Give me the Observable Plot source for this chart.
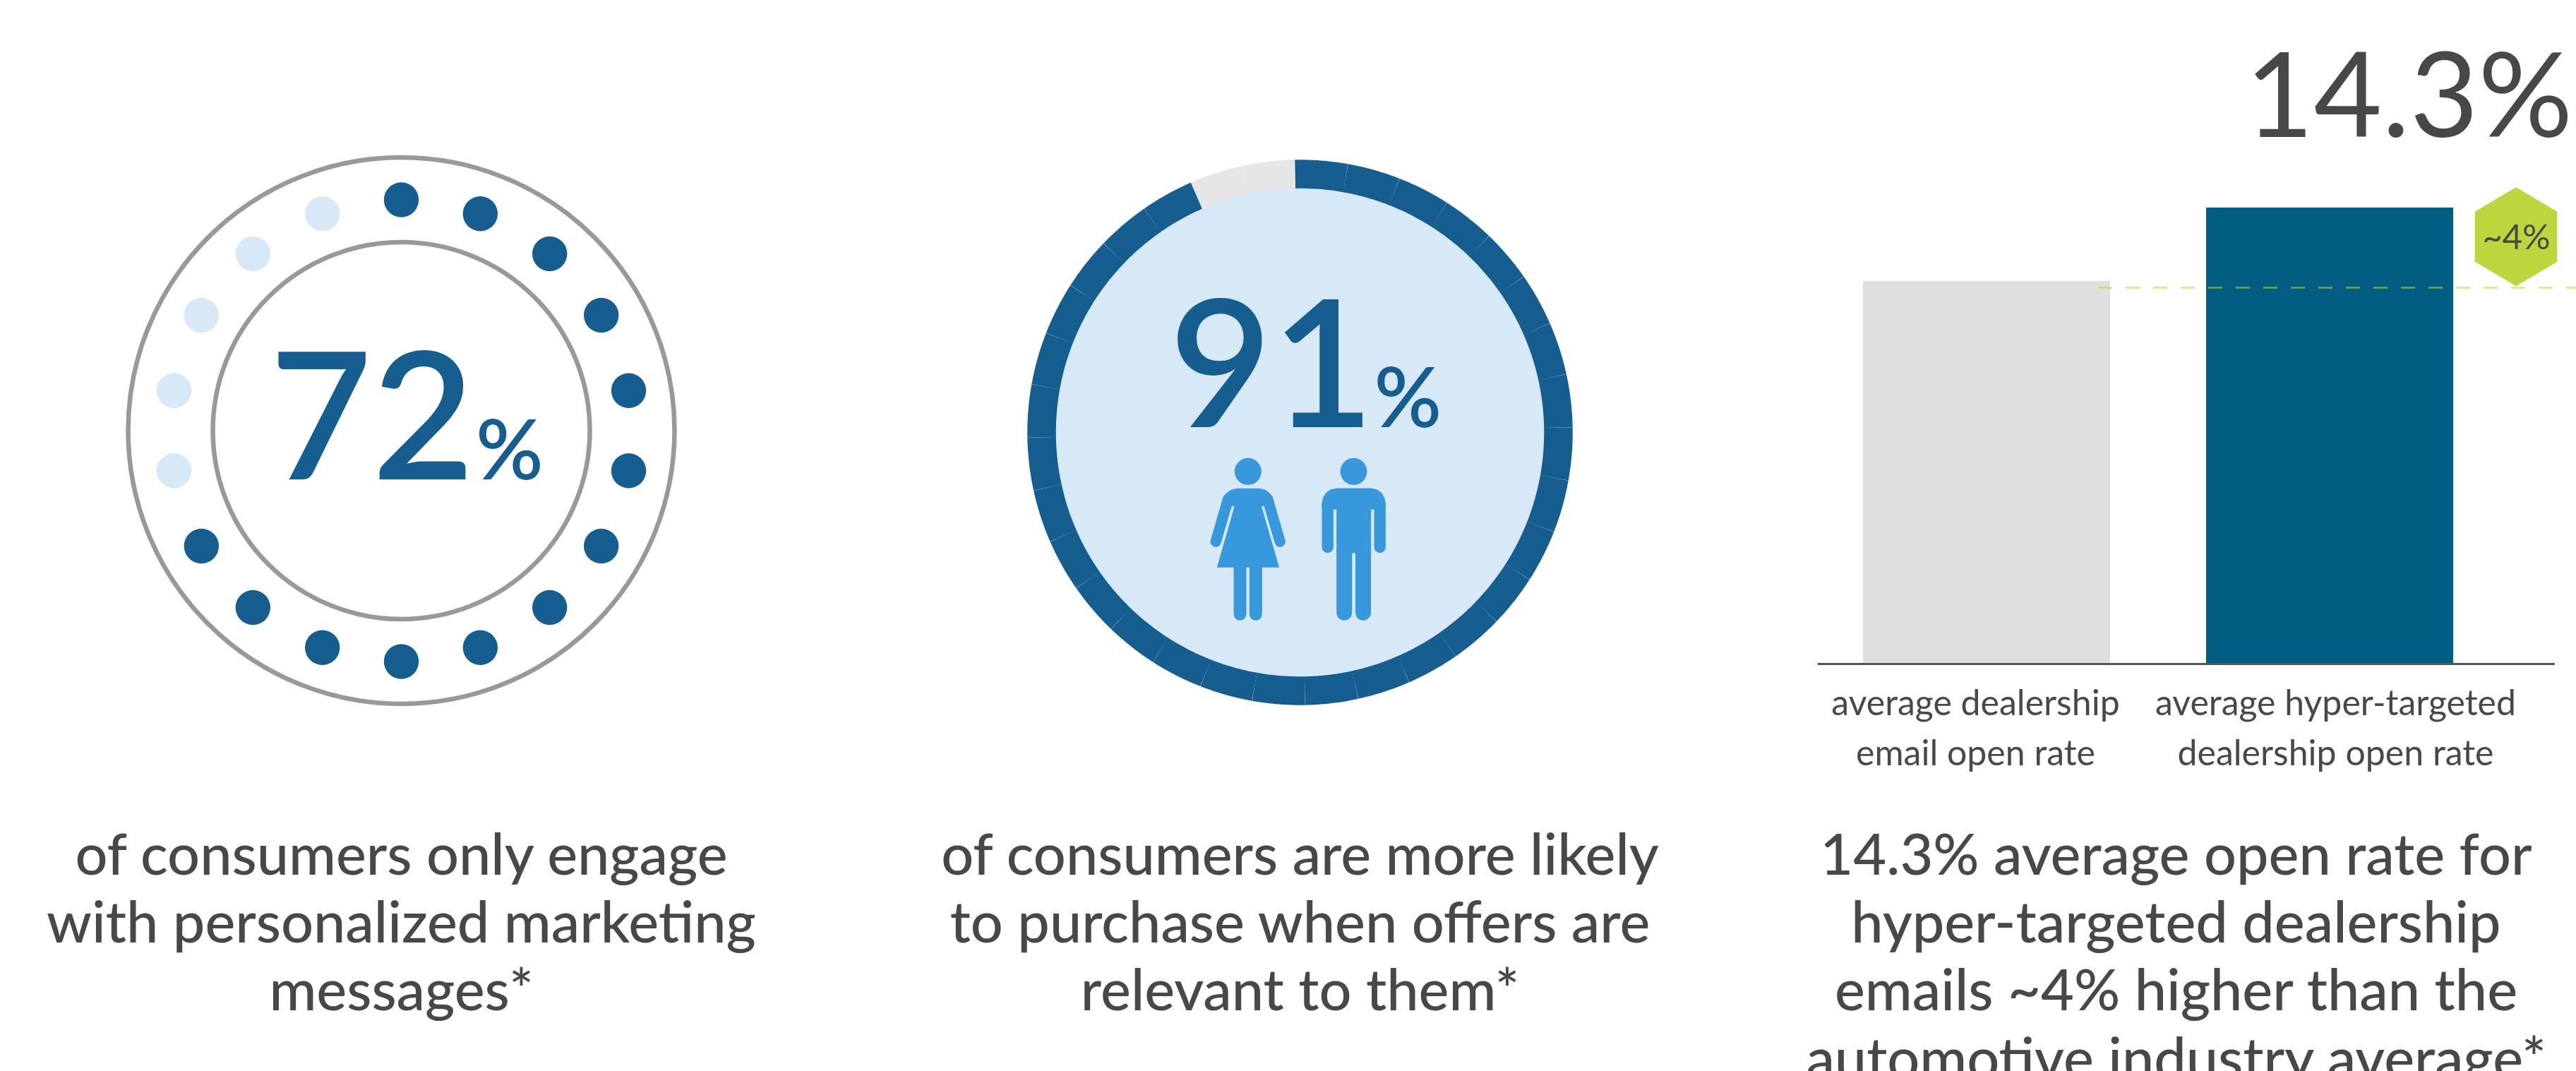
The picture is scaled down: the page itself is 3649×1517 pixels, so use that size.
<!DOCTYPE html>
<html>
<head>
<meta charset="utf-8">
<script src="https://cdn.jsdelivr.net/npm/d3@7"></script>
<script src="https://cdn.jsdelivr.net/npm/@observablehq/plot@0.6"></script>
<style>
  html, body { margin: 0; background: #fff; }
  #page { position: relative; width: 3649px; height: 1517px; overflow: hidden; background: #fff; }
  svg { position: absolute; top: 0; max-width: none !important; font-family: Lato, sans-serif; }
</style>
</head>
<body>
<div id="page"></div>
<script>
// Statistics shown in the three panels
const dotStates = ["on","on","on","on","on","on","on","on","on","on","on","on","on","off","off","off","off","off"];
const segmentStates = [
  "on","on","on","on","on","on","on","on","on","on",
  "on","on","on","on","on","on","on","on","on","on",
  "on","on","on","on","on","on","on","on","on","on",
  "off","off"
];
const barCategories = ["average dealership\nemail open rate", "average hyper-targeted\ndealership open rate"];
const barValues = [12.0, 14.3];
const benchmarkValue = 11.8;
const bigValue = "14.3%";
const badgeText = "~4%";
const captionEngage = "of consumers only engage\nwith personalized marketing\nmessages*";
const captionRelevant = "of consumers are more likely\nto purchase when offers are\nrelevant to them*";
const captionOpenRate = "14.3% average open rate for\nhyper-targeted dealership\nemails ~4% higher than the\nautomotive industry average*";

const NAVY = "#155e8f", PALE = "#d7e9f7", SKY = "#3798dc", INK = "#484848", LIME = "#bcd63e";
const CAPTION_SIZE = 81, CAPTION_LINE = 96.2, CAPTION_BASELINE = 1238.5;
const page = document.getElementById("page");

function caption(text, cx) {
  return Plot.text([text], {
    frameAnchor: "top-left", textAnchor: "middle", lineAnchor: "top",
    dx: cx, dy: CAPTION_BASELINE - 0.71 * CAPTION_LINE,
    lineHeight: CAPTION_LINE / CAPTION_SIZE, fontSize: CAPTION_SIZE, fontWeight: 500, fill: INK
  });
}

// A panel whose x/y scales are measured outward from the centre of its circle
function radialPanel(left, right, cx, cy, marks) {
  const svg = Plot.plot({
    width: right - left, height: 1517, margin: 0,
    x: {domain: [left - cx, right - cx], range: [0, right - left], axis: null},
    y: {domain: [cy, cy - 1517], range: [0, 1517], axis: null},
    marks
  });
  svg.style.left = left + "px";
  page.appendChild(svg);
}

// Panel 1: eighteen dots between two circles, clockwise from twelve o'clock
const dotRing = dotStates.map((state, i) => {
  const a = (i / dotStates.length) * 2 * Math.PI;
  return {state, x: 327 * Math.sin(a), y: 327 * Math.cos(a)};
});
radialPanel(0, 1137, 568, 609.5, [
  Plot.dot([[0, 0]], {x: "0", y: "1", r: 387, fill: "none", stroke: "#999", strokeWidth: 6.5}),
  Plot.dot([[0, 0]], {x: "0", y: "1", r: 267, fill: "none", stroke: "#999", strokeWidth: 6.5}),
  Plot.dot(dotRing, {x: "x", y: "y", r: 24.7, fill: d => d.state === "on" ? NAVY : PALE}),
  Plot.text(["72"], {x: -186.5, y: -69, text: d => d, textAnchor: "start", lineAnchor: "bottom", fontSize: 250, fontWeight: 600, fill: NAVY}),
  Plot.text(["%"], {x: 105.5, y: -69, text: d => d, textAnchor: "start", lineAnchor: "bottom", fontSize: 118, fontWeight: 600, fill: NAVY}),
  caption(captionEngage, 568)
]);

// Panel 2: segmented ring drawn as thick arcs, plus the two pictograms
const SEG_DEG = 360 / segmentStates.length;
const ringPoints = segmentStates.flatMap((state, i) =>
  d3.range(0, 13).map(k => {
    const a = (-1.1 + (i + k / 12) * SEG_DEG) * Math.PI / 180;
    return {seg: i, state, x: 366 * Math.sin(a), y: 366 * Math.cos(a)};
  })
);
// Pictogram outlines, in thirds of a pixel from the group's corner
const icoX = u => u / 3 + 1680 - 1841;
const icoY = v => 612 - (v / 3 + 620);
const outlines = [
  [[215,214],[310,214],[335,220],[355,235],[368,255],[372,268],[320,292],[395,550],[130,550],[204,292],[152,268],[157,255],[170,235],[190,220]],
  [[640,213],[783,213],[810,218],[830,233],[843,255],[847,280],[847,304],[785,304],[785,489],[638,489],[638,304],[576,304],[576,280],[580,255],[593,233],[613,218]]
];
const limbs = [
  {w: 46, pts: [[178,258],[125,440]]}, {w: 46, pts: [[345,258],[398,440]]},
  {w: 54, pts: [[228,540],[228,748]]}, {w: 54, pts: [[295,540],[295,748]]},
  {w: 49, pts: [[600.5,280],[600.5,463.5]]}, {w: 49, pts: [[822.5,280],[822.5,463.5]]},
  {w: 66, pts: [[671,480],[671,742]]}, {w: 66, pts: [[751.5,480],[751.5,742]]}
];
const heads = [[262,142],[711,142]];
const outlinePts = outlines.flatMap((o, id) => o.map(([u, v]) => ({id, x: icoX(u), y: icoY(v)})));
const limbMarks = limbs.map(l => Plot.line(l.pts.map(([u, v]) => ({x: icoX(u), y: icoY(v)})), {
  x: "x", y: "y", stroke: SKY, strokeWidth: l.w / 3, strokeLinecap: "round"
}));
radialPanel(1137, 2549, 1841, 612, [
  Plot.dot([[0, 0]], {x: "0", y: "1", r: 350, fill: PALE}),
  Plot.line(ringPoints, {
    x: "x", y: "y", z: "seg", stroke: d => d.state === "on" ? NAVY : "#e6e6e6",
    strokeWidth: 40.5, strokeLinejoin: "round", strokeLinecap: "butt"
  }),
  Plot.text(["91"], {x: -185, y: 8, text: d => d, textAnchor: "start", lineAnchor: "bottom", fontSize: 250, fontWeight: 600, fill: NAVY}),
  Plot.text(["%"], {x: 105, y: 8, text: d => d, textAnchor: "start", lineAnchor: "bottom", fontSize: 118, fontWeight: 600, fill: NAVY}),
  Plot.dot(heads, {x: d => icoX(d[0]), y: d => icoY(d[1]), r: 19, fill: SKY}),
  Plot.line(outlinePts, {x: "x", y: "y", z: "id", fill: SKY, stroke: "none"}),
  ...limbMarks,
  caption(captionRelevant, 1841 - 1137)
]);

// Panel 3: two bars on a real value scale, with the benchmark line and badge
const LEFT3 = 2549;
const bars = barCategories.map((label, i) => ({label, value: barValues[i]}));
const hexagon = {
  draw(ctx, size) {
    const r = Math.sqrt(size / Math.PI);
    const w = r * 58.3 / 70, s = r * 35.5 / 70;
    ctx.moveTo(0, -r); ctx.lineTo(w, -s); ctx.lineTo(w, s);
    ctx.lineTo(0, r); ctx.lineTo(-w, s); ctx.lineTo(-w, -s); ctx.closePath();
  }
};
const svg3 = Plot.plot({
  width: 3649 - LEFT3, height: 1517, margin: 0,
  x: {domain: barCategories, range: [2639 - LEFT3, 3475 - LEFT3], paddingInner: 0.28, paddingOuter: 0, align: 0, axis: null},
  y: {domain: [0, 14.3], range: [940, 294], axis: null},
  marks: [
    Plot.barY(bars, {x: "label", y: "value", fill: d => d.value === 14.3 ? "#025d83" : "#dfdfdf"}),
    Plot.ruleY([benchmarkValue], {stroke: LIME, strokeOpacity: 0.6, strokeWidth: 2.5, strokeDasharray: "20,19", insetLeft: 423}),
    Plot.ruleY([0], {stroke: "#555", strokeWidth: 3, insetLeft: 25.5, insetRight: 30}),
    Plot.dot([bars[1]], {x: "label", y: 13.4, dx: 263.5, r: 70, symbol: hexagon, fill: LIME}),
    Plot.text([badgeText], {x: () => bars[1].label, y: 13.0, text: d => d, dx: 264, lineAnchor: "bottom", fontSize: 49, fontWeight: 400, fill: INK}),
    Plot.text([bigValue], {x: () => bars[1].label, y: 14.3, text: d => d, dx: 112, dy: -101, lineAnchor: "bottom", fontSize: 167, fontWeight: 400, fill: INK}),
    Plot.text([bars[0]], {x: "label", y: 0, text: "label", dx: -16, dy: 71 * 0.29 + 1.5, lineAnchor: "top", lineHeight: 71 / 50, fontSize: 50, fontWeight: 400, fill: INK, textAnchor: "middle"}),
    Plot.text([bars[1]], {x: "label", y: 0, text: "label", dx: 8, dy: 71 * 0.29 + 1.5, lineAnchor: "top", lineHeight: 71 / 50, fontSize: 50, fontWeight: 400, fill: INK, textAnchor: "middle"}),
    caption(captionOpenRate, 3082 - LEFT3)
  ]
});
svg3.style.left = LEFT3 + "px";
page.appendChild(svg3);
</script>
</body>
</html>
